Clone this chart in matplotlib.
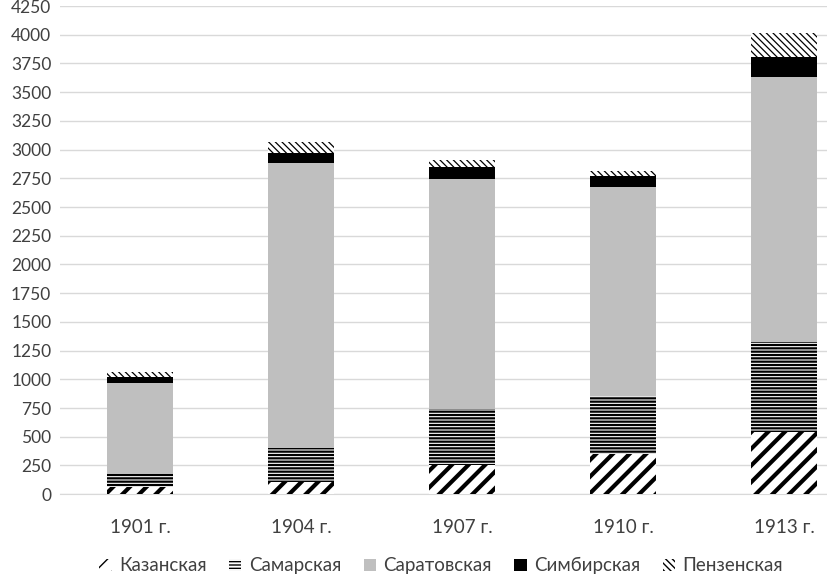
import matplotlib.pyplot as plt
from matplotlib.patches import Patch
import numpy as np

plt.rcParams['font.family'] = ['Lato', 'DejaVu Sans']

years = ['1901 г.', '1904 г.', '1907 г.', '1910 г.', '1913 г.']
kazan = [65, 105, 253, 348, 540]
samara = [110, 295, 487, 506, 784]
saratov = [792, 2483, 2004, 1820, 2308]
simbirsk = [52, 87, 104, 96, 174]
penza = [44, 96, 61, 43, 209]

names = ['Казанская', 'Самарская', 'Саратовская', 'Симбирская', 'Пензенская']
series = [kazan, samara, saratov, simbirsk, penza]
# face colour, hatch, hatch line width
styles = [('white', '//', 3.0),
          ('white', '-----', 1.6),
          ('#bfbfbf', None, 1.0),
          ('black', None, 1.0),
          ('white', '\\\\\\\\\\', 0.9)]

fig = plt.figure(figsize=(8.28, 5.78), dpi=100)
ax = fig.add_axes([0.072, 0.145, 1.0 - 0.072, 0.9896 - 0.145])

x = np.arange(len(years))
bottom = np.zeros(len(years))
handles = []
for name, vals, (fc, hatch, hlw) in zip(names, series, styles):
    with plt.rc_context({'hatch.linewidth': hlw, 'hatch.color': 'black'}):
        bars = ax.bar(x, vals, 0.41, bottom=bottom, color=fc, hatch=hatch,
                      edgecolor='black' if hatch else fc, linewidth=0, zorder=3)
        h = Patch(facecolor=fc, hatch=hatch, edgecolor='black' if hatch else fc,
                  linewidth=0)
    for b in bars:
        if hasattr(b, 'set_hatch_linewidth'):
            b.set_hatch_linewidth(hlw)
    if hasattr(h, 'set_hatch_linewidth'):
        h.set_hatch_linewidth(hlw)
    handles.append(h)
    bottom += np.array(vals)

ax.set_xlim(-0.5, 4.273)
ax.set_ylim(0, 4250)
ax.set_yticks(np.arange(0, 4251, 250))
ax.set_xticks(x)
ax.set_xticklabels(years)
ax.grid(axis='y', color='#d9d9d9', linewidth=1, zorder=0)
for s in ['top', 'right', 'left']:
    ax.spines[s].set_visible(False)
ax.spines['bottom'].set_color('#d9d9d9')
ax.tick_params(length=0, colors='#404040')
ax.tick_params(axis='x', pad=18, labelsize=13.5)
ax.tick_params(axis='y', pad=6, labelsize=12.5)

fig.legend(handles, names, loc='center', bbox_to_anchor=(0.533, 0.021),
           ncol=5, frameon=False, fontsize=13.5, handlelength=0.65,
           handleheight=0.65, handletextpad=0.4, columnspacing=1.2,
           labelcolor='#404040')

fig.savefig('out.png', dpi=100)
